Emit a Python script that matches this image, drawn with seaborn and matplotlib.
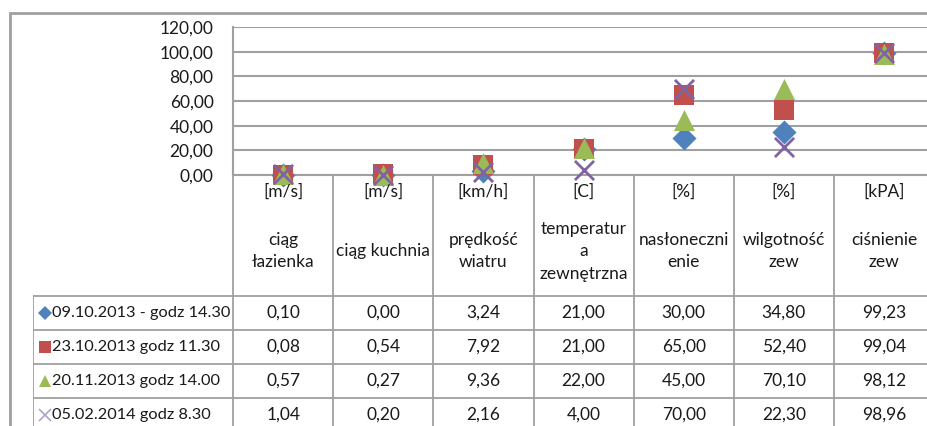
import numpy as np
import pandas as pd
import seaborn as sns
import matplotlib.pyplot as plt
from matplotlib.patches import Rectangle
from matplotlib.ticker import FuncFormatter

units = ['[m/s]', '[m/s]', '[km/h]', '[C]', '[%]', '[%]', '[kPA]']
names = ['ciąg\nłazienka', 'ciąg kuchnia', 'prędkość\nwiatru', 'temperatur\na\nzewnętrzna',
         'nasłoneczni\nenie', 'wilgotność\nzew', 'ciśnienie\nzew']
series = ['09.10.2013 - godz 14.30', '23.10.2013 godz 11.30',
          '20.11.2013 godz 14.00', '05.02.2014 godz 8.30']
s1 = [0.10, 0.00, 3.24, 21.00, 30.00, 34.80, 99.23]
s2 = [0.08, 0.54, 7.92, 21.00, 65.00, 52.40, 99.04]
s3 = [0.57, 0.27, 9.36, 22.00, 45.00, 70.10, 98.12]
s4 = [1.04, 0.20, 2.16, 4.00, 70.00, 22.30, 98.96]
y_ticks = [0, 20, 40, 60, 80, 100, 120]

colors = ['#4F81BD', '#C0504D', '#9BBB59', '#8064A2']
markers = ['D', 's', '^', 'x']
sizes = [150, 190, 230, 190]

sns.set_style('white')
plt.rcParams['font.family'] = ['Lato', 'DejaVu Sans']
grid_c = '#A0A0A0'
fs = 12.5

df = pd.DataFrame({
    'cat': np.tile(np.arange(len(units)), len(series)),
    'value': s1 + s2 + s3 + s4,
    'series': np.repeat(series, len(units)),
})

W, Hpx = 928, 426
fig = plt.figure(figsize=(W / 100, Hpx / 100), dpi=100)

# outer chart frame
fig.patches.append(Rectangle((10 / W, -0.1), 1.2, (Hpx - 13) / Hpx + 0.1, transform=fig.transFigure,
                             fill=False, edgecolor=grid_c, lw=2))

ax = fig.add_axes([233 / W, 251 / Hpx, 701 / W, 148 / Hpx])
for name, c, m, s in zip(series, colors, markers, sizes):
    sub = df[df['series'] == name]
    if m == 'x':
        sns.scatterplot(data=sub, x='cat', y='value', marker=m, color=c, s=s, linewidth=2,
                        ax=ax, clip_on=False, zorder=5, legend=False)
    else:
        sns.scatterplot(data=sub, x='cat', y='value', marker=m, color=c, s=s, linewidth=0,
                        ax=ax, clip_on=False, zorder=5, legend=False)

ax.set_xlim(-0.5, len(units) - 0.5)
ax.set_ylim(0, 120)
ax.set_yticks(y_ticks)
ax.yaxis.set_major_formatter(FuncFormatter(lambda v, _: f'{v:.2f}'.replace('.', ',')))
ax.set_xticks([])
ax.set_xlabel('')
ax.set_ylabel('')
ax.tick_params(axis='y', length=0, pad=14, labelsize=fs, labelcolor='#1a1a1a')
ax.grid(axis='y', color=grid_c, lw=1.5)
ax.set_axisbelow(True)
for sp in ['top', 'right']:
    ax.spines[sp].set_visible(False)
for sp in ['left', 'bottom']:
    ax.spines[sp].set_color(grid_c)
    ax.spines[sp].set_linewidth(1.5)

# data table below the plot
H = 121 / 34  # header height in row units
nrow = len(series)
tb = fig.add_axes([33 / W, -6 / Hpx, 901 / W, 257 / Hpx])
tb.set_xlim(-2.5, len(units) - 0.5)
tb.set_ylim(H + nrow, 0)
tb.axis('off')

for b in np.arange(-0.5, len(units), 1.0):
    tb.plot([b, b], [0, H + nrow], color=grid_c, lw=1.3)
tb.plot([-2.5, -2.5], [H, H + nrow], color=grid_c, lw=1.3)
for r in range(nrow):
    tb.plot([-2.5, len(units) - 0.5], [H + r, H + r], color=grid_c, lw=1.3)

for i, (u, n) in enumerate(zip(units, names)):
    tb.text(i, 0.5, u, ha='center', va='center', fontsize=fs, color='#1a1a1a')
    tb.text(i, 2.24, n, ha='center', va='center', fontsize=fs, color='#1a1a1a', linespacing=1.5)

rows = [s1, s2, s3, s4]
key_sizes = [7, 8, 8, 9]
for r, (name, vals, c, m, ks) in enumerate(zip(series, rows, colors, markers, key_sizes)):
    y = H + r + 0.5
    if m == 'x':
        tb.plot([-2.385], [y], marker=m, color='#B3A2C7', markersize=ks, mew=1.2, linestyle='none')
    else:
        tb.plot([-2.385], [y], marker=m, color=c, markersize=ks, mew=0, linestyle='none')
    tb.text(-2.31, y, name, ha='left', va='center', fontsize=11.8, color='#1a1a1a')
    for i, v in enumerate(vals):
        tb.text(i, y, f'{v:.2f}'.replace('.', ','), ha='center', va='center', fontsize=fs, color='#1a1a1a')

fig.savefig('out.png', dpi=100)
